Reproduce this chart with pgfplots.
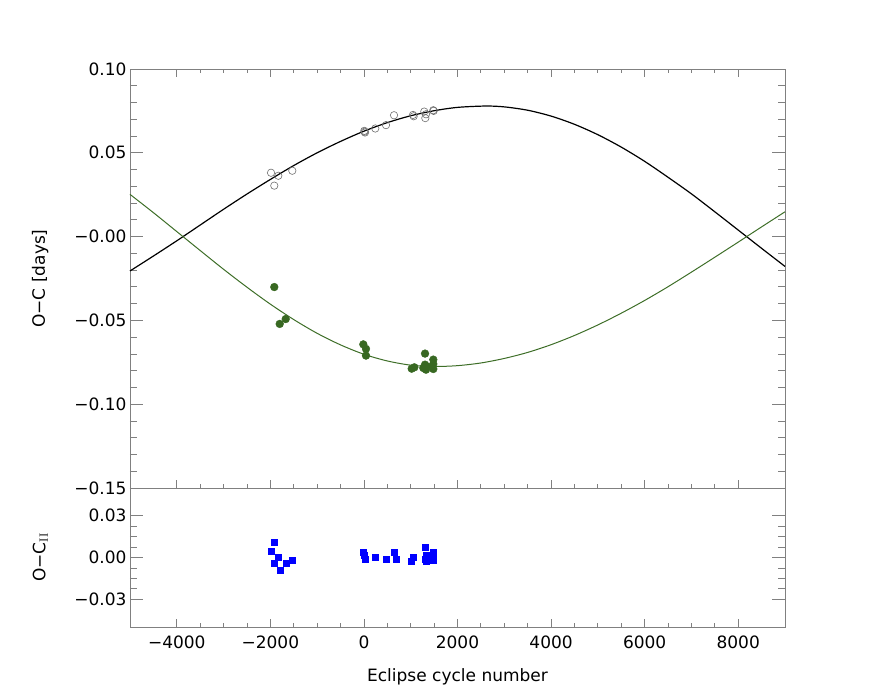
\documentclass[border=0pt]{standalone}
\usepackage[no-math]{fontspec}
\setmainfont{DejaVu Sans}
\usepackage{pgfplots}
\pgfplotsset{compat=1.18}
\definecolor{frame}{RGB}{128,128,128}
\definecolor{fitgreen}{RGB}{62,110,40}
\definecolor{ptgreen}{RGB}{56,104,34}
\definecolor{circ}{RGB}{110,110,110}

\begin{document}
\begin{tikzpicture}
\path[use as bounding box] (-130pt,-209pt) rectangle (742pt,488pt);
\pgfplotsset{
  every axis/.append style={
    scale only axis, width=655pt,
    xmin=-5000, xmax=9000,
    tick align=inside,
    axis line style={frame, line width=0.8pt},
    every tick/.style={frame, line width=0.8pt},
    major tick length=13pt, minor tick length=7pt,
    xtick style={/pgfplots/major tick length=8pt, /pgfplots/minor tick length=4pt},
    tick label style={font=\fontsize{17}{20}\selectfont, black},
    label style={font=\fontsize{17}{20}\selectfont},
    xtick={-4000,-2000,...,8000},
    minor x tick num=3,
    scaled ticks=false,
    ylabel style={at={(axis description cs:-0.137,0.5)}, anchor=center},
  },
}
% upper panel
\begin{axis}[at={(0,0)}, anchor=south west, height=419pt,
  ymin=-0.15, ymax=0.10, clip=false,
  ytick={-0.15,-0.10,-0.05,0,0.05,0.10},
  yticklabels={−0.15,−0.10,−0.05,−0.00,0.05,0.10},
  minor y tick num=4,
  xticklabels={},
  ylabel={O−C [days]}]
\addplot[black, line width=1.2pt, smooth] coordinates {
 (-5000,-0.0205) (-4500,-0.0116) (-4000,-0.0025) (-3500,0.0069) (-3000,0.0163)
 (-2500,0.0254) (-2000,0.0341) (-1500,0.0424) (-1000,0.0500) (-500,0.0568)
 (0,0.0629) (500,0.0680) (1000,0.0721) (1500,0.0751) (2000,0.0771) (2600,0.0779)
 (3000,0.0774) (3500,0.0754) (4000,0.0719) (4500,0.0670) (5000,0.0608)
 (5500,0.0534) (6000,0.0449) (6500,0.0354) (7000,0.0255) (7500,0.0148)
 (8000,0.0039) (8500,-0.0070) (9000,-0.0178)};
\addplot[fitgreen, line width=1pt, smooth] coordinates {
 (-5000,0.0252) (-4500,0.0143) (-4000,0.0030) (-3500,-0.0083) (-3000,-0.0195)
 (-2500,-0.0302) (-2000,-0.0403) (-1500,-0.0495) (-1000,-0.0577) (-500,-0.0646)
 (0,-0.0702) (500,-0.0742) (1000,-0.0767) (1500,-0.0775) (2000,-0.0770)
 (2500,-0.0754) (3000,-0.0727) (3500,-0.0691) (4000,-0.0645) (4500,-0.0590)
 (5000,-0.0527) (5500,-0.0457) (6000,-0.0381) (6500,-0.0299) (7000,-0.0212)
 (7500,-0.0123) (8000,-0.0033) (8500,0.0058) (9000,0.0148)};
\addplot[only marks, mark=o, mark size=3.7pt, mark options={circ, line width=0.6pt}] coordinates {
 (-1986,0.0381) (-1830,0.0363) (-1916,0.0304) (-1531,0.0393)
 (8,0.0631) (23,0.0621) (15,0.0626) (243,0.0645) (472,0.0665) (643,0.0724)
 (1049,0.0726) (1063,0.0718) (1290,0.0746) (1327,0.0730) (1312,0.0707)
 (1483,0.0754) (1490,0.0750)};
\addplot[only marks, mark=*, mark size=3.9pt, mark options={ptgreen, fill=ptgreen}] coordinates {
 (-1916,-0.0301) (-1800,-0.0521) (-1672,-0.0492)
 (-13,-0.0643) (44,-0.0670) (44,-0.0710)
 (1021,-0.0788) (1078,-0.0780) (1306,-0.0698) (1306,-0.0764) (1327,-0.0794)
 (1341,-0.0774) (1270,-0.0784) (1483,-0.0734) (1483,-0.0790) (1483,-0.0760)};
\draw[black, line width=0.8pt] (rel axis cs:0,0) -- (rel axis cs:1,0);
\end{axis}
% lower panel
\begin{axis}[at={(0,0)}, anchor=north west, height=139pt,
  ymin=-0.05, ymax=0.05,
  ytick={-0.03,0,0.03},
  yticklabels={−0.03,0.00,0.03},
  minor y tick num=3,
  xtick pos=bottom,
  xticklabels={−4000,−2000,0,2000,4000,6000,8000},
  xticklabel style={yshift=-5pt},
  xlabel={Eclipse cycle number},
  xlabel style={at={(axis description cs:0.5,-0.36)}, anchor=center},
  ylabel={O−C$_{\mathrm{II}}$}]
\addplot[only marks, mark=square*, mark size=3pt, mark options={blue, fill=blue}] coordinates {
 (-1916,0.0107) (-1986,0.0045) (-1830,0.0004) (-1916,-0.0043) (-1794,-0.0091)
 (-1672,-0.0039) (-1531,-0.0019)
 (-13,0.0040) (8,0.0016) (23,-0.0014) (243,0.0000) (472,-0.0010) (643,0.0040)
 (686,-0.0012) (1021,-0.0030) (1056,0.0004) (1306,0.0071) (1306,-0.0014)
 (1327,0.0016) (1341,-0.0030) (1483,0.0040) (1483,-0.0019) (1470,0.0010)};
\end{axis}
\end{tikzpicture}
\end{document}
